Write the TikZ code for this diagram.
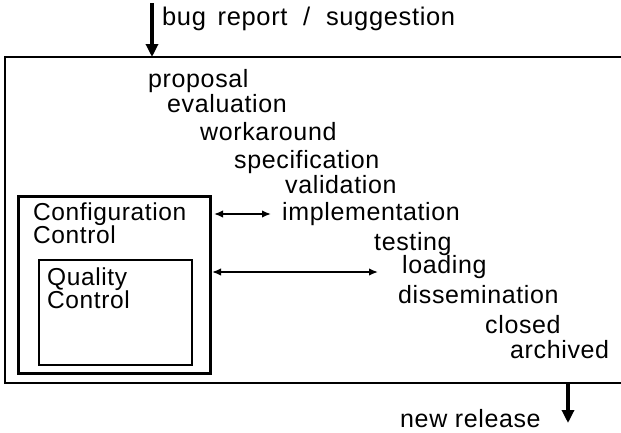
\documentclass[tikz,border=0pt]{standalone}
\usepackage{fontspec}
\setmainfont{Liberation Sans}[LetterSpace=2.5]
\usetikzlibrary{arrows.meta}
\begin{document}
\begin{tikzpicture}[x=1pt,y=-1pt,
  lbl/.style={anchor=base west,inner sep=0pt,font=\fontsize{25}{30}\selectfont},
  boxlbl/.style={anchor=north west,inner sep=0pt,align=left,font=\fontsize{24.5}{23}\selectfont},
  flow/.style={line width=3.2pt,-{Triangle[width=12pt,length=13pt]}},
  link/.style={line width=1.6pt,{Latex[width=7.5pt,length=9pt]}-{Latex[width=7.5pt,length=9pt]}}]
\useasboundingbox (0,0) rectangle (621,432);
% outer box (open to the right)
\draw[line width=2.5pt] (640,57) -- (5,57) -- (5,383) -- (640,383);
% inner boxes
\draw[line width=3pt] (18,196) rectangle (210,373);
\draw[line width=2.5pt] (39,260) rectangle (192,365);
\node[boxlbl] (cc) at (33,203) {Configuration\\Control};
\node[boxlbl] (qc) at (47,268) {Quality\\Control};
% texts
\node[lbl,font=\fontsize{25.5}{30}\selectfont] (bug) at (162,25) {bug\hspace{4pt} report\hspace{8pt} /\hspace{8pt} suggestion};
\node[lbl] (prop) at (148,87) {proposal};
\node[lbl] (eval) at (167,112) {evaluation};
\node[lbl] (work) at (200,140) {workaround};
\node[lbl] (spec) at (234,168) {specification};
\node[lbl] (vali) at (285,193) {validation};
\node[lbl] (impl) at (282,220) {implementation};
\node[lbl] (test) at (374,250) {testing};
\node[lbl] (load) at (402,273) {loading};
\node[lbl] (diss) at (398,303) {dissemination};
\node[lbl] (clos) at (485,333) {closed};
\node[lbl] (arch) at (510,358) {archived};
\node[lbl] (newr) at (400,427) {new release};
% flow arrows
\coordinate (inS) at (152,3);
\coordinate (inE) at (152,57);
\coordinate (outS) at (568,383);
\coordinate (outE) at (568,423);
\draw[flow] (inS) -- (inE);
\draw[flow] (outS) -- (outE);
% links
\coordinate (l1a) at (214,214);
\coordinate (l1b) at (271,214);
\coordinate (l2a) at (212,272);
\coordinate (l2b) at (378,272);
\draw[link] (l1a) -- (l1b);
\draw[link] (l2a) -- (l2b);
\end{tikzpicture}
\end{document}
